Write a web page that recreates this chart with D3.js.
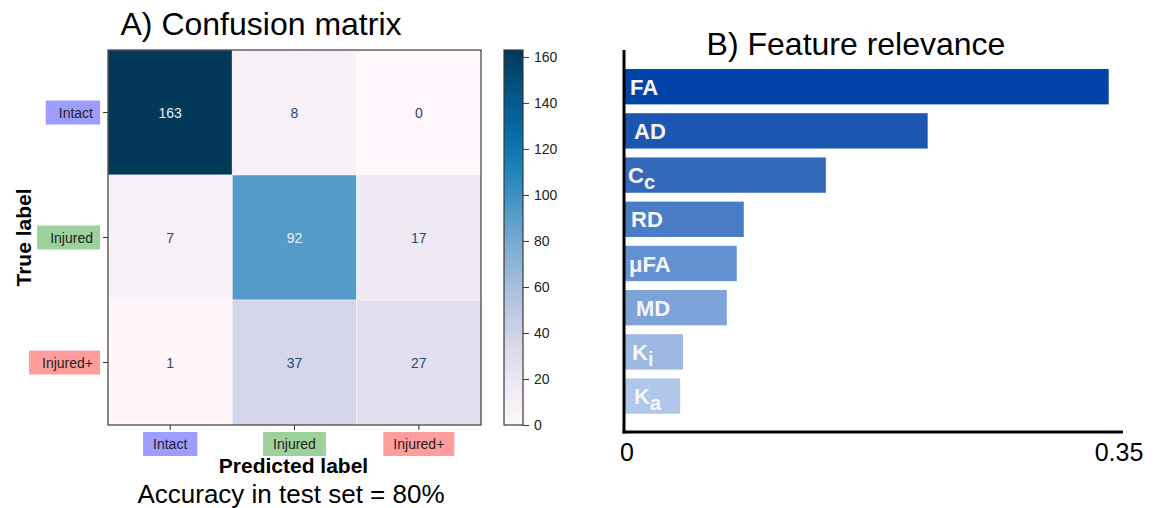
<!DOCTYPE html>
<html>
<head>
<meta charset="utf-8">
<script src="https://cdn.jsdelivr.net/npm/d3@7"></script>
<style>
  html, body { margin: 0; padding: 0; background: #fff; }
  svg { display: block; font-family: "Liberation Sans", Arial, sans-serif; }
</style>
</head>
<body>
<svg id="fig" width="1163" height="508"></svg>
<script>
// ---- Data ----
const classes = ["Intact", "Injured", "Injured+"];
const classColors = ["#9d9dff", "#9dd19b", "#ff9d9d"];
// rows = true label, columns = predicted label
const matrixRows = [
  [163, 8, 0],
  [7, 92, 17],
  [1, 37, 27]
];
const colorbarTicks = [0, 20, 40, 60, 80, 100, 120, 140, 160];
const accuracyText = "Accuracy in test set = 80%";

const features = ["FA", "AD", "Cc", "RD", "μFA", "MD", "Ki", "Ka"];
const featureSubscripts = ["", "", "c", "", "", "", "i", "a"];
const relevance = [0.342, 0.214, 0.142, 0.084, 0.079, 0.072, 0.041, 0.039];
const barColors = ["#0044aa", "#1b56b2", "#3468bd", "#4b7cc6", "#6290d0", "#7ea3d9", "#9db8e1", "#b0c7e9"];
const relevanceTicks = [0, 0.35];

const svg = d3.select("#fig");

// ---- A) Confusion matrix ----
const mx0 = 108, mx1 = 481, my0 = 50, my1 = 425;
const xCm = d3.scaleBand().domain(d3.range(classes.length)).range([mx0, mx1]);
const yCm = d3.scaleBand().domain(d3.range(classes.length)).range([my0, my1]);
const cmax = d3.max(matrixRows.flat());
const color = d3.scaleSequential(d3.interpolatePuBu).domain([0, cmax]);

svg.append("text")
  .attr("x", 261).attr("y", 35)
  .attr("text-anchor", "middle")
  .style("font-size", "32px")
  .text("A) Confusion matrix");

const cells = [];
matrixRows.forEach((row, i) => row.forEach((v, j) => cells.push({ i, j, v })));

const cm = svg.append("g");
cm.selectAll("rect.cell").data(cells).join("rect")
  .attr("class", "cell")
  .attr("x", d => xCm(d.j)).attr("y", d => yCm(d.i))
  .attr("width", xCm.bandwidth()).attr("height", yCm.bandwidth())
  .attr("fill", d => color(d.v))
  .attr("stroke", "rgba(255,255,255,0.45)")
  .attr("stroke-width", 1);

cm.selectAll("text.val").data(cells).join("text")
  .attr("class", "val")
  .attr("x", d => xCm(d.j) + xCm.bandwidth() / 2)
  .attr("y", d => yCm(d.i) + yCm.bandwidth() / 2)
  .attr("text-anchor", "middle").attr("dominant-baseline", "central")
  .style("font-size", "14px")
  .attr("fill", d => d.v > cmax / 2 ? "#f3eef6" : "#1f4b72")
  .text(d => d.v);

// frame
cm.append("rect")
  .attr("x", mx0).attr("y", my0).attr("width", mx1 - mx0).attr("height", my1 - my0)
  .attr("fill", "none").attr("stroke", "#3a3a3a").attr("stroke-width", 1.2);

// y axis ticks with coloured label boxes
const yTickG = cm.selectAll("g.ytick").data(classes).join("g")
  .attr("class", "ytick")
  .attr("transform", (d, i) => `translate(${mx0},${yCm(i) + yCm.bandwidth() / 2})`);
yTickG.append("line").attr("x1", 0).attr("x2", -5).attr("stroke", "#333").attr("stroke-width", 1);
yTickG.each(function (d, i) {
  const g = d3.select(this);
  const t = g.append("text")
    .attr("x", -15).attr("y", 0)
    .attr("text-anchor", "end").attr("dominant-baseline", "central")
    .style("font-size", "14px").attr("fill", "#222")
    .text(d);
  const bb = t.node().getBBox();
  g.insert("rect", "text")
    .attr("x", bb.x - 13).attr("y", -12)
    .attr("width", bb.width + 20).attr("height", 24)
    .attr("fill", classColors[i]);
});

// x axis ticks with coloured label boxes
const xTickG = cm.selectAll("g.xtick").data(classes).join("g")
  .attr("class", "xtick")
  .attr("transform", (d, i) => `translate(${xCm(i) + xCm.bandwidth() / 2},${my1})`);
xTickG.append("line").attr("y1", 0).attr("y2", 5).attr("stroke", "#333").attr("stroke-width", 1);
xTickG.each(function (d, i) {
  const g = d3.select(this);
  const t = g.append("text")
    .attr("x", 0).attr("y", 19)
    .attr("text-anchor", "middle").attr("dominant-baseline", "central")
    .style("font-size", "14px").attr("fill", "#222")
    .text(d);
  const bb = t.node().getBBox();
  g.insert("rect", "text")
    .attr("x", bb.x - 10).attr("y", 7)
    .attr("width", bb.width + 20).attr("height", 24)
    .attr("fill", classColors[i]);
});

svg.append("text")
  .attr("transform", `translate(31,${(my0 + my1) / 2}) rotate(-90)`)
  .attr("text-anchor", "middle")
  .style("font-size", "21px").style("font-weight", "bold")
  .text("True label");

svg.append("text")
  .attr("x", (mx0 + mx1) / 2 - 1).attr("y", 473)
  .attr("text-anchor", "middle")
  .style("font-size", "21px").style("font-weight", "bold")
  .text("Predicted label");

svg.append("text")
  .attr("x", 291).attr("y", 503)
  .attr("text-anchor", "middle")
  .style("font-size", "26px")
  .text(accuracyText);

// colour bar
const cbX = 504, cbW = 19;
const cbScale = d3.scaleLinear().domain([0, cmax]).range([my1, my0]);
const grad = svg.append("defs").append("linearGradient")
  .attr("id", "cbgrad").attr("x1", 0).attr("x2", 0).attr("y1", 1).attr("y2", 0);
d3.range(0, 1.0001, 0.05).forEach(t => {
  grad.append("stop").attr("offset", t).attr("stop-color", color(t * cmax));
});
svg.append("rect")
  .attr("x", cbX).attr("y", my0).attr("width", cbW).attr("height", my1 - my0)
  .attr("fill", "url(#cbgrad)")
  .attr("stroke", "#3a3a3a").attr("stroke-width", 1.2);
const cbAxis = d3.axisRight(cbScale).tickValues(colorbarTicks).tickSize(6).tickPadding(5);
const cbG = svg.append("g").attr("transform", `translate(${cbX + cbW},0)`).call(cbAxis);
cbG.select(".domain").remove();
cbG.selectAll(".tick line").attr("stroke", "#333");
cbG.selectAll(".tick text")
  .style("font-size", "14px").style("font-family", "'Liberation Sans', Arial, sans-serif")
  .attr("fill", "#222");

// ---- B) Feature relevance ----
const bx0 = 625, bx1 = 1120;
const xB = d3.scaleLinear().domain([0, 0.35]).range([bx0, bx1]);
const yB = d3.scaleBand().domain(features).range([64.6, 418.2]).paddingInner(0.2).paddingOuter(0.1);

svg.append("text")
  .attr("x", 856).attr("y", 55)
  .attr("text-anchor", "middle")
  .style("font-size", "32px")
  .text("B) Feature relevance");

const bars = svg.append("g");
bars.selectAll("rect").data(features).join("rect")
  .attr("x", xB(0))
  .attr("y", d => yB(d))
  .attr("width", (d, i) => xB(relevance[i]) - xB(0))
  .attr("height", yB.bandwidth())
  .attr("fill", (d, i) => barColors[i]);

const labelOffsets = [5, 9, 3, 6, 4, 11, 7, 9];
const lbl = bars.selectAll("text").data(features).join("text")
  .attr("x", (d, i) => xB(0) + labelOffsets[i])
  .attr("y", d => yB(d) + yB.bandwidth() / 2 + 8)
  .style("font-size", "22px").style("font-weight", "bold")
  .attr("fill", "#f4f6fb");
lbl.each(function (d, i) {
  const t = d3.select(this);
  const sub = featureSubscripts[i];
  if (sub) {
    t.append("tspan").text(d.slice(0, d.length - sub.length));
    t.append("tspan").attr("dy", 6).style("font-size", "20px").text(sub);
  } else {
    t.text(d);
  }
});

// axes lines
svg.append("line")
  .attr("x1", 624).attr("x2", 624).attr("y1", 50).attr("y2", 433.5)
  .attr("stroke", "#000").attr("stroke-width", 3);
svg.append("line")
  .attr("x1", 622.5).attr("x2", 1123).attr("y1", 432).attr("y2", 432)
  .attr("stroke", "#000").attr("stroke-width", 3);

svg.selectAll("text.btick").data(relevanceTicks).join("text")
  .attr("class", "btick")
  .attr("x", d => xB(d) + (d === 0 ? 2 : -1))
  .attr("y", 461)
  .attr("text-anchor", "middle")
  .style("font-size", "25px")
  .text(d => d === 0 ? "0" : d3.format(".2f")(d));
</script>
</body>
</html>
